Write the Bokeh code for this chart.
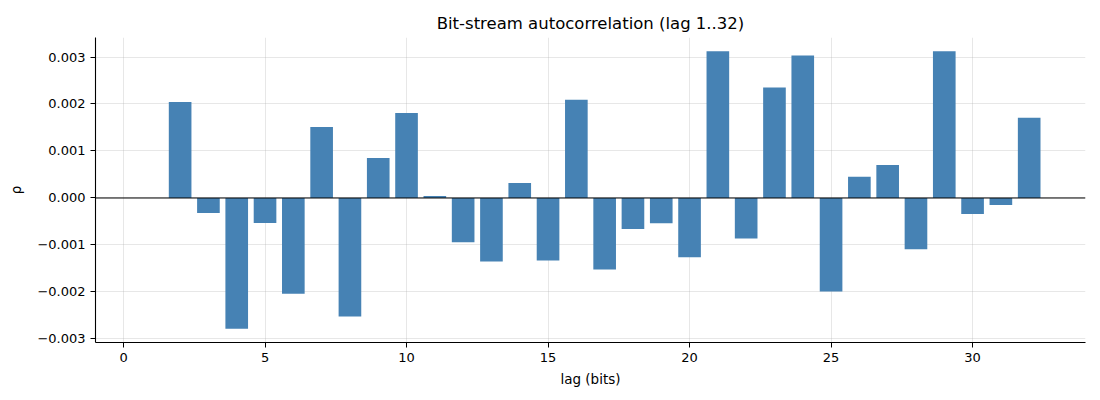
from bokeh.plotting import figure
from bokeh.models import Span, Range1d, FixedTicker, CustomJSTickFormatter, ColumnDataSource
from bokeh.embed import file_html
from bokeh.resources import INLINE

lags = list(range(1, 33))
rho = [0.0, 0.00204, -0.00032, -0.00278, -0.00053, -0.00204, 0.00151, -0.00252,
       0.00085, 0.00181, 0.00004, -0.00094, -0.00135, 0.00032, -0.00133, 0.00209,
       -0.00152, -0.00066, -0.00054, -0.00126, 0.00312, -0.00086, 0.00235, 0.00303,
       -0.00199, 0.00045, 0.00070, -0.00109, 0.00312, -0.00034, -0.00015, 0.00171]
x_ticks = [0, 5, 10, 15, 20, 25, 30]
y_ticks = [-0.003, -0.002, -0.001, 0.0, 0.001, 0.002, 0.003]

FONT = "DejaVu Sans"
src = ColumnDataSource(data=dict(lag=lags, rho=rho))

p = figure(width=1100, height=400, output_backend="svg", toolbar_location=None,
           title="Bit-stream autocorrelation (lag 1..32)",
           x_range=Range1d(-0.99, 33.99), y_range=Range1d(-0.003075, 0.003415),
           min_border_left=95, min_border_right=15, min_border_top=37, min_border_bottom=58)

p.vbar(x="lag", top="rho", width=0.8, source=src, fill_color="#4682b4", line_color=None)
p.add_layout(Span(location=0, dimension="width", line_color="black", line_width=1))

p.title.align = "center"
p.title.text_font = FONT
p.title.text_font_style = "normal"
p.title.text_font_size = "16.5px"
p.title.text_color = "black"
p.title.offset = 2

p.outline_line_color = None
p.grid.grid_line_color = "#b0b0b0"
p.grid.grid_line_alpha = 0.3
p.xaxis.ticker = FixedTicker(ticks=x_ticks)
p.yaxis.ticker = FixedTicker(ticks=y_ticks)
p.yaxis.formatter = CustomJSTickFormatter(
    code='return (tick < -1e-9 ? "\\u2212" : "") + Math.abs(tick).toFixed(3);')
p.xaxis.axis_label = "lag (bits)"
p.yaxis.axis_label = "ρ"

for ax in (p.xaxis, p.yaxis):
    ax.axis_line_color = "black"
    ax.axis_line_width = 1.1
    ax.major_tick_line_color = "black"
    ax.major_tick_in = 0
    ax.major_tick_out = 5
    ax.minor_tick_line_color = None
    ax.major_label_text_font = FONT
    ax.major_label_text_font_size = "13px"
    ax.major_label_text_color = "black"
    ax.axis_label_text_font = FONT
    ax.axis_label_text_font_size = "13.5px"
    ax.axis_label_text_font_style = "normal"
    ax.axis_label_text_color = "black"
p.xaxis.axis_label_standoff = 6
p.yaxis.axis_label_standoff = 10

open("out.html", "w").write(file_html(p, INLINE))
